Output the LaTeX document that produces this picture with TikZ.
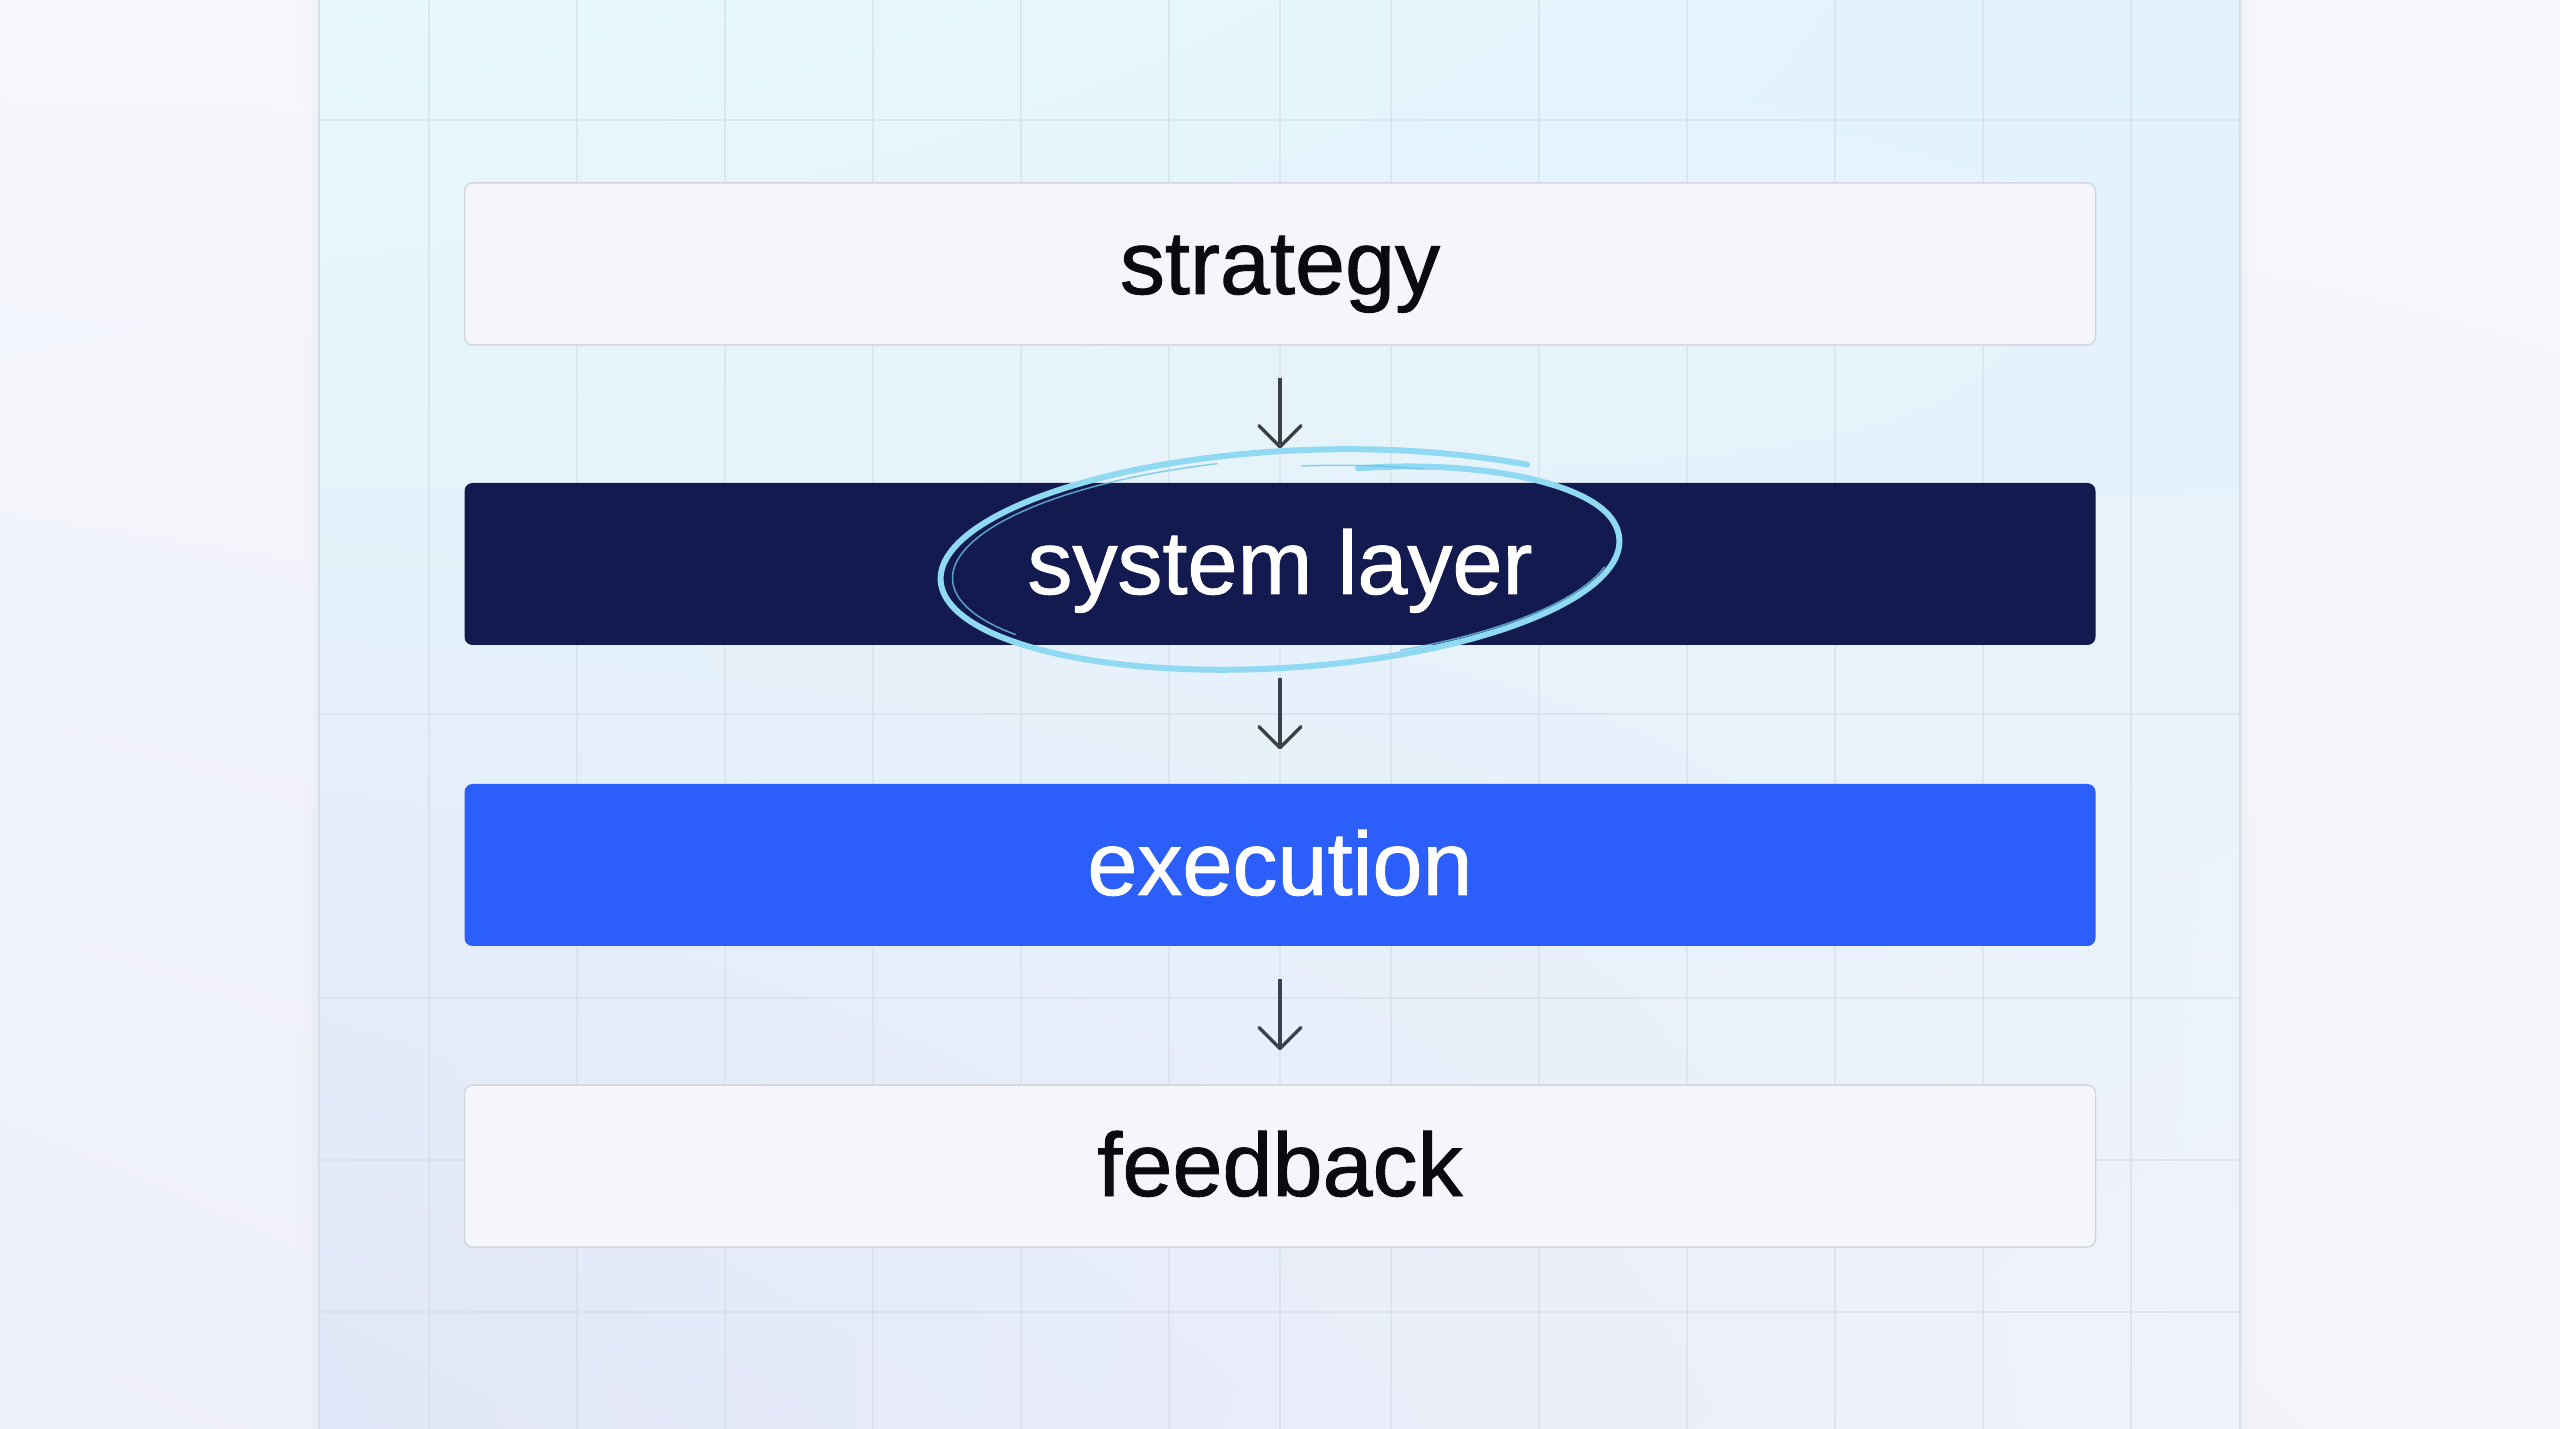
\documentclass[tikz,border=0pt]{standalone}
\usepackage{fontspec}
\setmainfont{Liberation Sans}[FakeBold=1.0]
\usetikzlibrary{arrows.meta,shadings}
\definecolor{outTL}{HTML}{F5F7FC}
\definecolor{outTR}{HTML}{F6F7FB}
\definecolor{outBL}{HTML}{EEF0FA}
\definecolor{outBR}{HTML}{F4F5FA}
\definecolor{panTL}{HTML}{E8F9FC}
\definecolor{panTR}{HTML}{E1F2FC}
\definecolor{panBL}{HTML}{E1E6F8}
\definecolor{panBR}{HTML}{F1F3FA}
\definecolor{gridc}{HTML}{D3DCE6}
\definecolor{edgec}{HTML}{D8DEE8}
\definecolor{lightfill}{HTML}{F5F6FC}
\definecolor{lightdraw}{HTML}{D2D6DE}
\definecolor{navy}{HTML}{131A4F}
\definecolor{bright}{HTML}{2C5FFA}
\definecolor{arrowc}{HTML}{3A404C}
\definecolor{inkc}{HTML}{8FD9F3}
\definecolor{inkdark}{HTML}{6CC3E8}
\definecolor{textc}{HTML}{0A0B0E}
\begin{document}
\begin{tikzpicture}[x=0.3pt,y=-0.3pt,
  gridl/.style={draw=gridc, line width=0.33pt, opacity=0.55},
  box/.style={rectangle, rounded corners=2.4pt, minimum width=489.3pt, minimum height=48.6pt,
    inner sep=0pt, text height=18pt, text depth=0pt, font=\fontsize{27pt}{30pt}\selectfont},
  lightbox/.style={box, fill=lightfill, draw=lightdraw, line width=0.45pt, text=textc},
  navybox/.style={box, fill=navy, text=white},
  bluebox/.style={box, fill=bright, text=white},
  flow/.style={draw=arrowc, line width=1pt, shorten <=9.6pt, shorten >=10.2pt,
    -{Straight Barb[length=6.3pt, width=12.6pt, round]}},
  ink/.style={draw=inkc, line width=1.8pt, line cap=round, line join=round},
  inkthin/.style={draw=inkdark, line width=0.45pt, line cap=round, opacity=0.8}]
\useasboundingbox (0,0) rectangle (2560,1429);
% outer background
\shade[upper left=outTL, upper right=outTR, lower left=outBL, lower right=outBR]
  (0,0) rectangle (2560,1429);
% panel shadow
\foreach \d/\o in {3/0.10,7/0.06,12/0.04,18/0.025}
  \fill[edgec, opacity=\o] ({319-\d},0) rectangle ({2240+\d},1429);
% panel
\shade[upper left=panTL, upper right=panTR, lower left=panBL, lower right=panBR]
  (319,0) rectangle (2240,1429);
\draw[edgec, line width=0.4pt] (319,0) -- (319,1429);
\draw[edgec, line width=0.4pt] (2240,0) -- (2240,1429);
% grid
\foreach \k in {0,...,5} {
  \draw[gridl] ({1169-148*\k},0) -- ({1169-148*\k},1429);
  \draw[gridl] ({1391+148*\k},0) -- ({1391+148*\k},1429);
}
\draw[gridl] (1280,0) -- (1280,1429);
\foreach \yy in {120,714,998,1160,1312}
  \draw[gridl] (319,\yy) -- (2240,\yy);
% boxes
\node[lightbox] (strat) at (1280,264) {strategy};
\node[navybox]  (sys)   at (1280,564) {system layer};
\node[bluebox]  (exec)  at (1280,865) {execution};
\node[lightbox] (feed)  at (1280,1166) {feedback};
% arrows
\draw[flow] (strat.south) -- (sys.north);
\draw[flow] (sys.south) -- (exec.north);
\draw[flow] (exec.south) -- (feed.north);
% hand-drawn ellipse
\begin{scope}[shift={(1280,560)}, rotate=3.5]
  \draw[ink] plot[domain=45:433, samples=220, smooth, variable=\a]
    ({340*(1+0.05*exp(-(\a-45)/20)-0.16*max(0,\a-370)*max(0,\a-370)/3969)*cos(\a)},
     {-108*(1+0.05*exp(-(\a-45)/20)-0.16*max(0,\a-370)*max(0,\a-370)/3969)*sin(\a)});
  \draw[inkthin] plot[domain=100:215, samples=60, smooth, variable=\a]
    ({340*0.965*cos(\a)}, {-108*0.94*sin(\a)});
  \draw[inkthin] plot[domain=290:345, samples=40, smooth, variable=\a]
    ({340*0.985*cos(\a)}, {-108*0.96*sin(\a)});
  \draw[inkthin] plot[domain=62:85, samples=20, smooth, variable=\a]
    ({340*0.93*cos(\a)}, {-108*0.86*sin(\a)});
\end{scope}
\end{tikzpicture}
\end{document}
